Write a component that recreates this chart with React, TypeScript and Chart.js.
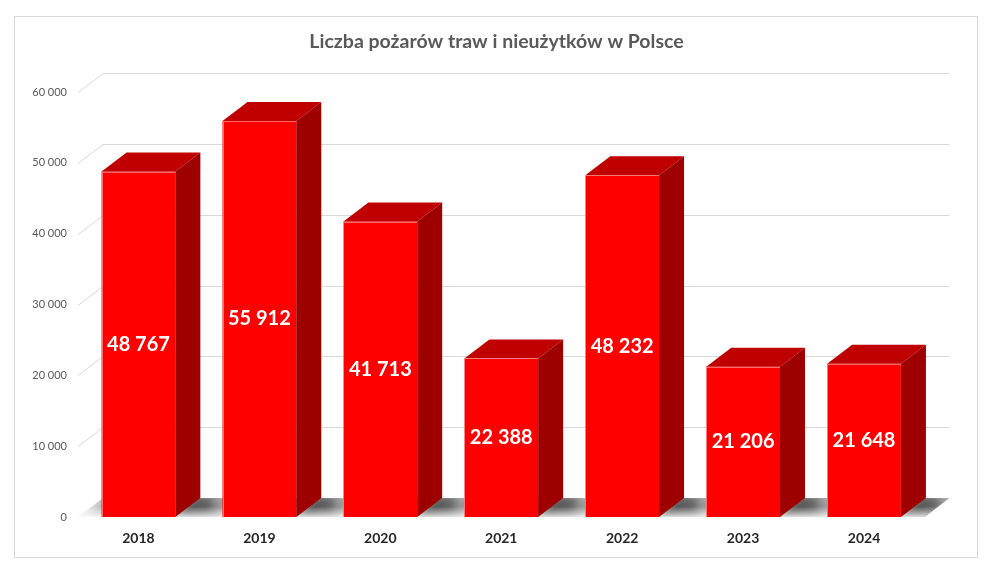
import { useEffect, useRef } from "react";
import { Chart, registerables } from "chart.js";

Chart.register(...registerables);

const chartTitle = "Liczba pożarów traw i nieużytków w Polsce";
const years = ["2018", "2019", "2020", "2021", "2022", "2023", "2024"];
const fires = [48767, 55912, 41713, 22388, 48232, 21206, 21648];
const yMin = 0;
const yMax = 60000;
const yStep = 10000;

const DX = 25;
const DY = -19;

const fmt = (v: number) => String(v).replace(/\B(?=(\d{3})+(?!\d))/g, " ");

const threeD = {
  id: "threeD",
  beforeDraw(chart: any) {
    const { ctx, width, height } = chart;
    ctx.save();
    ctx.fillStyle = "#ffffff";
    ctx.fillRect(0, 0, width, height);
    ctx.strokeStyle = "#D9D9D9";
    ctx.lineWidth = 1;
    ctx.strokeRect(14.5, 16.5, 963, 541);
    ctx.restore();
  },
  beforeDatasetsDraw(chart: any) {
    const { ctx, chartArea, scales } = chart;
    const { left, right } = chartArea;
    const y = scales.y;
    ctx.save();
    // back wall grid lines
    ctx.strokeStyle = "#D9D9D9";
    ctx.lineWidth = 1;
    y.ticks.forEach((t: any) => {
      if (t.value <= yMin) return;
      const py = Math.round(y.getPixelForValue(t.value)) + 0.5;
      ctx.beginPath();
      ctx.moveTo(left, py);
      ctx.lineTo(left + DX, py + DY);
      ctx.lineTo(right + DX, py + DY);
      ctx.stroke();
    });
    // floor
    const p0 = y.getPixelForValue(yMin);
    const floorPath = () => {
      ctx.beginPath();
      ctx.moveTo(left, p0);
      ctx.lineTo(right, p0);
      ctx.lineTo(right + DX, p0 + DY);
      ctx.lineTo(left + DX, p0 + DY);
      ctx.closePath();
    };
    floorPath();
    const fg = ctx.createLinearGradient(0, p0 + DY, 0, p0);
    fg.addColorStop(0, "#d4d4d4");
    fg.addColorStop(1, "#eeeeee");
    ctx.fillStyle = fg;
    ctx.fill();
    ctx.save();
    floorPath();
    ctx.clip();
    const meta = chart.getDatasetMeta(0);
    ctx.filter = "blur(3px)";
    meta.data.forEach((bar: any) => {
      const { x, base, width } = bar.getProps(["x", "base", "width"], true);
      const l = x - width / 2;
      const r = x + width / 2;
      const ext = 42;
      const g = ctx.createLinearGradient(r, 0, r + DX + ext, 0);
      g.addColorStop(0, "rgba(70,70,70,1)");
      g.addColorStop(0.5, "rgba(95,95,95,0.95)");
      g.addColorStop(1, "rgba(200,200,200,0)");
      ctx.fillStyle = g;
      ctx.beginPath();
      ctx.moveTo(r - 4, base + 2);
      ctx.lineTo(r + DX - 4, base + DY - 2);
      ctx.lineTo(r + DX + ext, base + DY - 2);
      ctx.lineTo(r + ext, base + 2);
      ctx.closePath();
      ctx.fill();
      // small shadow at the left foot
      const g2 = ctx.createLinearGradient(l - 20, 0, l + DX, 0);
      g2.addColorStop(0, "rgba(120,120,120,0)");
      g2.addColorStop(1, "rgba(110,110,110,0.8)");
      ctx.fillStyle = g2;
      ctx.beginPath();
      ctx.moveTo(l - 20, base + 2);
      ctx.lineTo(l - 20 + DX, base + DY - 2);
      ctx.lineTo(l + DX, base + DY - 2);
      ctx.lineTo(l, base + 2);
      ctx.closePath();
      ctx.fill();
    });
    ctx.filter = "none";
    // lighten the front edge of the floor
    const hg = ctx.createLinearGradient(0, p0 + DY * 0.55, 0, p0);
    hg.addColorStop(0, "rgba(255,255,255,0)");
    hg.addColorStop(1, "rgba(255,255,255,0.75)");
    ctx.fillStyle = hg;
    floorPath();
    ctx.fill();
    ctx.restore();
    ctx.restore();
  },
  afterDatasetsDraw(chart: any) {
    const { ctx } = chart;
    const meta = chart.getDatasetMeta(0);
    ctx.save();
    meta.data.forEach((bar: any, i: number) => {
      const { x, y: top, base, width } = bar.getProps(["x", "y", "base", "width"], true);
      const l = x - width / 2;
      const r = x + width / 2;
      // top face
      ctx.beginPath();
      ctx.moveTo(l, top);
      ctx.lineTo(r, top);
      ctx.lineTo(r + DX, top + DY);
      ctx.lineTo(l + DX, top + DY);
      ctx.closePath();
      ctx.fillStyle = "#C00000";
      ctx.fill();
      // side face
      ctx.beginPath();
      ctx.moveTo(r, top);
      ctx.lineTo(r + DX, top + DY);
      ctx.lineTo(r + DX, base + DY);
      ctx.lineTo(r, base);
      ctx.closePath();
      ctx.fillStyle = "#9E0000";
      ctx.fill();
      // faint light edge on the front face
      ctx.strokeStyle = "rgba(255,150,150,0.7)";
      ctx.lineWidth = 1;
      ctx.beginPath();
      ctx.moveTo(Math.round(l) + 0.5, base);
      ctx.lineTo(Math.round(l) + 0.5, Math.round(top) + 0.5);
      ctx.lineTo(r, Math.round(top) + 0.5);
      ctx.stroke();
      // label
      ctx.fillStyle = "#ffffff";
      ctx.font = "bold 20px Lato";
      ctx.textAlign = "center";
      ctx.textBaseline = "middle";
      ctx.fillText(fmt(fires[i]), x, (top + base) / 2);
    });
    ctx.restore();
  },
};

export default function App() {
  const ref = useRef<HTMLCanvasElement | null>(null);
  useEffect(() => {
    if (!ref.current) return;
    const chart = new Chart(ref.current, {
      type: "bar",
      data: {
        labels: years,
        datasets: [
          {
            data: fires,
            backgroundColor: "#FF0000",
            borderWidth: 0,
            barPercentage: 0.61,
            categoryPercentage: 1,
          },
        ],
      },
      options: {
        responsive: false,
        animation: false,
        layout: { padding: { left: 0, right: 0, top: 30, bottom: 0 } },
        plugins: {
          legend: { display: false },
          tooltip: { enabled: false },
          title: {
            display: true,
            text: chartTitle,
            color: "#595959",
            font: { family: "Lato", size: 19.5, weight: "bold" },
            padding: { top: 0, bottom: 38.6 },
          },
        },
        scales: {
          x: {
            grid: { display: false, drawTicks: false },
            border: { display: false },
            ticks: {
              color: "#262626",
              font: { family: "Lato", size: 14, weight: "bold" },
              padding: 13,
            },
            afterFit: (s: any) => {
              s.height = 65;
            },
          },
          y: {
            min: yMin,
            max: yMax,
            grid: { display: false, drawTicks: false },
            border: { display: false },
            ticks: {
              stepSize: yStep,
              color: "#595959",
              font: { family: "Lato", size: 11 },
              padding: 11,
              callback: (v: any) => fmt(Number(v)),
            },
            afterFit: (s: any) => {
              s.width = 78;
            },
          },
          yRight: {
            position: "right",
            min: yMin,
            max: yMax,
            grid: { display: false, drawTicks: false },
            border: { display: false },
            ticks: { display: false },
            afterFit: (s: any) => {
              s.width = 68.5;
            },
          },
        },
      },
      plugins: [threeD],
    });
    return () => chart.destroy();
  }, []);
  return (
    <div style={{ position: "absolute", left: 0, top: 0, width: 993, height: 582 }}>
      <canvas ref={ref} width={993} height={582} />
    </div>
  );
}
